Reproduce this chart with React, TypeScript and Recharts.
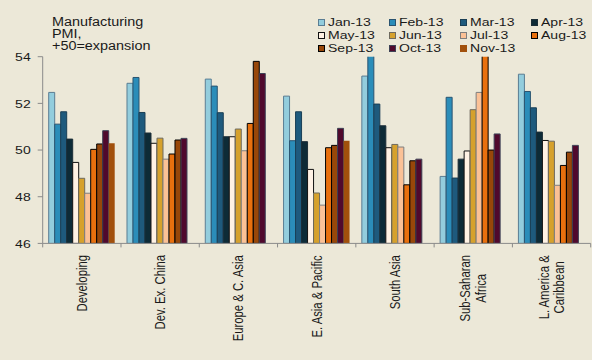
import React from 'react';
import { BarChart, Bar, XAxis, YAxis, Legend } from 'recharts';

const CATEGORIES = [
  'Developing',
  'Dev. Ex. China',
  'Europe & C. Asia',
  'E. Asia & Pacific',
  'South Asia',
  'Sub-Saharan\nAfrica',
  'L. America &\nCaribbean',
];

const MONTHS = ['Jan-13', 'Feb-13', 'Mar-13', 'Apr-13', 'May-13', 'Jun-13', 'Jul-13', 'Aug-13', 'Sep-13', 'Oct-13', 'Nov-13'];

const JAN = [52.47, 52.86, 53.04, 52.31, 53.17, 48.87, 53.25];
const FEB = [51.11, 53.11, 52.74, 50.4, 54.6, 52.26, 52.51];
const MAR = [51.64, 51.61, 51.6, 51.64, 51.97, 48.8, 51.81];
const APR = [50.47, 50.73, 50.57, 50.36, 51.04, 49.61, 50.77];
const MAY = [49.47, 50.29, 50.57, 49.17, 50.1, 49.96, 50.41];
const JUN = [48.79, 50.51, 50.9, 48.16, 50.24, 51.73, 50.38];
const JUL = [48.15, 49.61, 49.97, 47.64, 50.13, 52.47, 48.49];
const AUG = [50.03, 49.83, 51.14, 50.1, 48.51, 54.5, 49.34];
const SEP = [50.26, 50.43, 53.8, 50.2, 49.54, 50.0, 49.91];
const OCT = [50.83, 50.5, 53.28, 50.93, 49.61, 50.69, 50.2];
const NOV = [50.29, null, null, 50.4, null, null, null];

const SERIES_VALUES = [JAN, FEB, MAR, APR, MAY, JUN, JUL, AUG, SEP, OCT, NOV];

const Y_TICKS = [46, 48, 50, 52, 54];
const TITLE_LINES = ['Manufacturing', 'PMI,', '+50=expansion'];

const SERIES_STYLE = [
  { fill: '#93CDDD', stroke: '#5A7D93' },
  { fill: '#2B8DB9', stroke: '#2A5470' },
  { fill: '#1E5A7D', stroke: '#1A3F55' },
  { fill: '#0D2B37', stroke: '#1C2E38' },
  { fill: '#FFF2E4', stroke: '#111111' },
  { fill: '#D6A12C', stroke: '#6E6A5E' },
  { fill: '#FBC196', stroke: '#7E7E7E' },
  { fill: '#E8700E', stroke: '#000000' },
  { fill: '#984709', stroke: '#000000' },
  { fill: '#50092D', stroke: '#3E4256' },
  { fill: '#A1500C', stroke: 'none' },
];

const BG = '#ECE8D8';
const AXIS = '#8A8A8A';
const TEXT = '#1A1A1A';
const FONT = '"Liberation Sans", Arial, sans-serif';
const STRETCH = 1.22;
const X_FONT = 11.3;
const X_LINE = 12.9;
const X_TICK_MARGIN = 11.6;

const data = CATEGORIES.map((name, i) => {
  const row: any = { name };
  MONTHS.forEach((m, j) => {
    row[m] = SERIES_VALUES[j][i];
  });
  return row;
});

let ctx: any = null;
const measure = (s: string, size: number) => {
  if (!ctx) {
    ctx = document.createElement('canvas').getContext('2d');
  }
  ctx.font = `${size}px "Liberation Sans"`;
  return ctx.measureText(s).width;
};

const XTick = (props: any) => {
  const { x, y, payload, index } = props;
  const half = payload && typeof payload.offset === 'number' && payload.offset > 0 ? payload.offset : 548 / CATEGORIES.length / 2;
  const lines = String(payload.value).split('\n');
  const maxW = Math.max(...lines.map((l) => measure(l, X_FONT)));
  const axisY = y - X_TICK_MARGIN;
  const n = lines.length;
  const firstDy = -((n - 1) / 2) * X_LINE + 0.36 * X_FONT;
  return (
    <g>
      <line x1={x - half} x2={x - half} y1={axisY} y2={axisY + 4} stroke={AXIS} />
      {index === CATEGORIES.length - 1 && (
        <line x1={x + half} x2={x + half} y1={axisY} y2={axisY + 4} stroke={AXIS} />
      )}
      <g transform={`translate(${x},${y}) rotate(-90) scale(1,${STRETCH})`}>
        <text textAnchor="middle" fontSize={X_FONT} fontFamily={FONT} fill={TEXT}>
          {lines.map((l, i) => (
            <tspan key={i} x={-maxW / 2} dy={i === 0 ? firstDy : X_LINE}>
              {l}
            </tspan>
          ))}
        </text>
      </g>
    </g>
  );
};

const YTick = (props: any) => {
  const { x, y, payload } = props;
  return (
    <g transform={`translate(${x},${y}) scale(${STRETCH},1)`}>
      <text textAnchor="end" dy="0.36em" fontSize={11.5} fontFamily={FONT} fill={TEXT}>
        {payload.value}
      </text>
    </g>
  );
};

const LegendGrid = () => (
  <div
    style={{
      display: 'grid',
      gridTemplateColumns: 'repeat(4, 71px)',
      gridAutoRows: '12.8px',
      fontFamily: FONT,
      fontSize: 11.5,
      lineHeight: '12.8px',
      color: TEXT,
    }}
  >
    {MONTHS.map((m, i) => (
      <div key={m} style={{ display: 'flex', alignItems: 'center', whiteSpace: 'nowrap' }}>
        <span
          style={{
            display: 'inline-block',
            width: 5,
            height: 5,
            background: SERIES_STYLE[i].fill,
            border: `1px solid ${SERIES_STYLE[i].stroke === 'none' ? SERIES_STYLE[i].fill : SERIES_STYLE[i].stroke}`,
            marginRight: 3,
            flex: 'none',
          }}
        />
        <span style={{ display: 'inline-block', transform: `scaleX(${STRETCH})`, transformOrigin: 'left center' }}>{m}</span>
      </div>
    ))}
  </div>
);

export default function App() {
  return (
    <div style={{ position: 'absolute', left: 0, top: 0, width: 592, height: 360, background: BG, overflow: 'hidden' }}>
      <BarChart
        width={592}
        height={360}
        data={data}
        margin={{ top: 56.7, right: 1.3, bottom: 0, left: 0 }}
        barSize={6}
        barGap={0}
      >
        <XAxis
          dataKey="name"
          height={116.6}
          interval={0}
          tickLine={false}
          tickSize={0}
          tickMargin={X_TICK_MARGIN}
          stroke={AXIS}
          tick={<XTick />}
        />
        <YAxis
          domain={[46, 54]}
          ticks={Y_TICKS}
          allowDataOverflow
          width={42.7}
          tickSize={5}
          tickMargin={7}
          stroke={AXIS}
          tick={<YTick />}
        />
        <Legend
          layout="horizontal"
          verticalAlign="middle"
          align="center"
          content={() => <LegendGrid />}
          wrapperStyle={{ position: 'absolute', left: 318, top: 16.3, width: 290, height: 40 }}
        />
        {MONTHS.map((m, i) => (
          <Bar
            key={m}
            dataKey={m}
            fill={SERIES_STYLE[i].fill}
            stroke={SERIES_STYLE[i].stroke}
            strokeWidth={1}
            isAnimationActive={false}
          />
        ))}
      </BarChart>
      <div
        style={{
          position: 'absolute',
          left: 51.7,
          top: 15.6,
          fontFamily: FONT,
          fontSize: 12,
          lineHeight: '12.3px',
          color: TEXT,
          whiteSpace: 'pre',
          transform: `scaleX(1.2)`,
          transformOrigin: 'left top',
        }}
      >
        {TITLE_LINES.join('\n')}
      </div>
    </div>
  );
}
